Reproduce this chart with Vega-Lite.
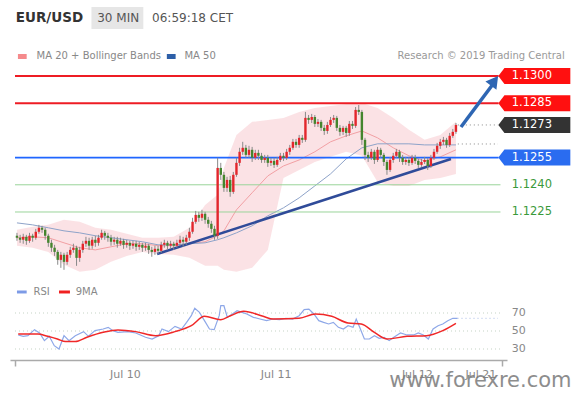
{
"$schema":"https://vega.github.io/schema/vega-lite/v6.json",
"width":497,"height":360,"autosize":"none",
"padding":{"left":10,"right":73,"top":0,"bottom":33},
"background":"white",
"config":{"view":{"stroke":null},"font":"DejaVu Sans"},
"datasets":{
"candles":[
{"i":0,"o":1.12119,"h":1.12135,"l":1.12091,"c":1.12108},
{"i":1,"o":1.12108,"h":1.12124,"l":1.12080,"c":1.12097},
{"i":2,"o":1.12097,"h":1.12130,"l":1.12075,"c":1.12113},
{"i":3,"o":1.12113,"h":1.12124,"l":1.12069,"c":1.12091},
{"i":4,"o":1.12091,"h":1.12135,"l":1.12080,"c":1.12119},
{"i":5,"o":1.12119,"h":1.12130,"l":1.12086,"c":1.12108},
{"i":6,"o":1.12108,"h":1.12157,"l":1.12097,"c":1.12141},
{"i":7,"o":1.12141,"h":1.12179,"l":1.12130,"c":1.12163},
{"i":8,"o":1.12163,"h":1.12174,"l":1.12135,"c":1.12152},
{"i":9,"o":1.12152,"h":1.12163,"l":1.12097,"c":1.12119},
{"i":10,"o":1.12119,"h":1.12130,"l":1.12058,"c":1.12080},
{"i":11,"o":1.12080,"h":1.12097,"l":1.12030,"c":1.12053},
{"i":12,"o":1.12053,"h":1.12069,"l":1.12008,"c":1.12030},
{"i":13,"o":1.12030,"h":1.12041,"l":1.11959,"c":1.11986},
{"i":14,"o":1.11986,"h":1.12030,"l":1.11942,"c":1.12014},
{"i":15,"o":1.12014,"h":1.12025,"l":1.11931,"c":1.11975},
{"i":16,"o":1.11975,"h":1.12030,"l":1.11959,"c":1.12014},
{"i":17,"o":1.12014,"h":1.12058,"l":1.11997,"c":1.12041},
{"i":18,"o":1.12041,"h":1.12075,"l":1.12025,"c":1.12053},
{"i":19,"o":1.12053,"h":1.12064,"l":1.11953,"c":1.11997},
{"i":20,"o":1.11997,"h":1.12058,"l":1.11975,"c":1.12041},
{"i":21,"o":1.12041,"h":1.12091,"l":1.12025,"c":1.12075},
{"i":22,"o":1.12075,"h":1.12113,"l":1.12058,"c":1.12091},
{"i":23,"o":1.12091,"h":1.12108,"l":1.12041,"c":1.12064},
{"i":24,"o":1.12064,"h":1.12113,"l":1.12047,"c":1.12097},
{"i":25,"o":1.12097,"h":1.12119,"l":1.12058,"c":1.12080},
{"i":26,"o":1.12080,"h":1.12124,"l":1.12064,"c":1.12108},
{"i":27,"o":1.12108,"h":1.12152,"l":1.12097,"c":1.12135},
{"i":28,"o":1.12135,"h":1.12146,"l":1.12097,"c":1.12119},
{"i":29,"o":1.12119,"h":1.12135,"l":1.12086,"c":1.12108},
{"i":30,"o":1.12108,"h":1.12124,"l":1.12064,"c":1.12086},
{"i":31,"o":1.12086,"h":1.12113,"l":1.12069,"c":1.12097},
{"i":32,"o":1.12097,"h":1.12113,"l":1.12053,"c":1.12075},
{"i":33,"o":1.12075,"h":1.12108,"l":1.12064,"c":1.12091},
{"i":34,"o":1.12091,"h":1.12102,"l":1.12047,"c":1.12069},
{"i":35,"o":1.12069,"h":1.12097,"l":1.12053,"c":1.12080},
{"i":36,"o":1.12080,"h":1.12091,"l":1.12041,"c":1.12064},
{"i":37,"o":1.12064,"h":1.12091,"l":1.12047,"c":1.12075},
{"i":38,"o":1.12075,"h":1.12091,"l":1.12036,"c":1.12058},
{"i":39,"o":1.12058,"h":1.12086,"l":1.12041,"c":1.12069},
{"i":40,"o":1.12069,"h":1.12080,"l":1.12030,"c":1.12053},
{"i":41,"o":1.12053,"h":1.12080,"l":1.12036,"c":1.12064},
{"i":42,"o":1.12064,"h":1.12075,"l":1.12019,"c":1.12041},
{"i":43,"o":1.12041,"h":1.12058,"l":1.12003,"c":1.12030},
{"i":44,"o":1.12030,"h":1.12064,"l":1.12014,"c":1.12047},
{"i":45,"o":1.12047,"h":1.12064,"l":1.12019,"c":1.12036},
{"i":46,"o":1.12036,"h":1.12086,"l":1.12025,"c":1.12069},
{"i":47,"o":1.12069,"h":1.12097,"l":1.12053,"c":1.12080},
{"i":48,"o":1.12080,"h":1.12091,"l":1.12041,"c":1.12064},
{"i":49,"o":1.12064,"h":1.12091,"l":1.12047,"c":1.12075},
{"i":50,"o":1.12075,"h":1.12086,"l":1.12041,"c":1.12064},
{"i":51,"o":1.12064,"h":1.12097,"l":1.12053,"c":1.12080},
{"i":52,"o":1.12080,"h":1.12119,"l":1.12064,"c":1.12097},
{"i":53,"o":1.12097,"h":1.12113,"l":1.12058,"c":1.12086},
{"i":54,"o":1.12086,"h":1.12124,"l":1.12069,"c":1.12108},
{"i":55,"o":1.12108,"h":1.12163,"l":1.12091,"c":1.12141},
{"i":56,"o":1.12141,"h":1.12218,"l":1.12130,"c":1.12196},
{"i":57,"o":1.12196,"h":1.12256,"l":1.12185,"c":1.12234},
{"i":58,"o":1.12234,"h":1.12251,"l":1.12196,"c":1.12218},
{"i":59,"o":1.12218,"h":1.12262,"l":1.12201,"c":1.12240},
{"i":60,"o":1.12240,"h":1.12251,"l":1.12185,"c":1.12207},
{"i":61,"o":1.12207,"h":1.12223,"l":1.12163,"c":1.12185},
{"i":62,"o":1.12185,"h":1.12201,"l":1.12135,"c":1.12157},
{"i":63,"o":1.12157,"h":1.12174,"l":1.12097,"c":1.12119},
{"i":64,"o":1.12119,"h":1.12549,"l":1.12102,"c":1.12493},
{"i":65,"o":1.12493,"h":1.12521,"l":1.12427,"c":1.12455},
{"i":66,"o":1.12455,"h":1.12471,"l":1.12361,"c":1.12383},
{"i":67,"o":1.12383,"h":1.12444,"l":1.12361,"c":1.12427},
{"i":68,"o":1.12427,"h":1.12449,"l":1.12334,"c":1.12361},
{"i":69,"o":1.12361,"h":1.12471,"l":1.12350,"c":1.12455},
{"i":70,"o":1.12455,"h":1.12549,"l":1.12444,"c":1.12521},
{"i":71,"o":1.12521,"h":1.12604,"l":1.12504,"c":1.12582},
{"i":72,"o":1.12582,"h":1.12637,"l":1.12565,"c":1.12604},
{"i":73,"o":1.12604,"h":1.12620,"l":1.12549,"c":1.12565},
{"i":74,"o":1.12565,"h":1.12615,"l":1.12549,"c":1.12593},
{"i":75,"o":1.12593,"h":1.12609,"l":1.12526,"c":1.12549},
{"i":76,"o":1.12549,"h":1.12593,"l":1.12537,"c":1.12576},
{"i":77,"o":1.12576,"h":1.12593,"l":1.12537,"c":1.12560},
{"i":78,"o":1.12560,"h":1.12576,"l":1.12521,"c":1.12537},
{"i":79,"o":1.12537,"h":1.12565,"l":1.12521,"c":1.12549},
{"i":80,"o":1.12549,"h":1.12565,"l":1.12499,"c":1.12521},
{"i":81,"o":1.12521,"h":1.12549,"l":1.12504,"c":1.12532},
{"i":82,"o":1.12532,"h":1.12549,"l":1.12493,"c":1.12510},
{"i":83,"o":1.12510,"h":1.12554,"l":1.12499,"c":1.12537},
{"i":84,"o":1.12537,"h":1.12576,"l":1.12526,"c":1.12560},
{"i":85,"o":1.12560,"h":1.12576,"l":1.12532,"c":1.12549},
{"i":86,"o":1.12549,"h":1.12598,"l":1.12537,"c":1.12582},
{"i":87,"o":1.12582,"h":1.12620,"l":1.12565,"c":1.12604},
{"i":88,"o":1.12604,"h":1.12653,"l":1.12593,"c":1.12637},
{"i":89,"o":1.12637,"h":1.12653,"l":1.12604,"c":1.12620},
{"i":90,"o":1.12620,"h":1.12675,"l":1.12604,"c":1.12659},
{"i":91,"o":1.12659,"h":1.12675,"l":1.12631,"c":1.12648},
{"i":92,"o":1.12648,"h":1.12802,"l":1.12637,"c":1.12769},
{"i":93,"o":1.12769,"h":1.12785,"l":1.12736,"c":1.12758},
{"i":94,"o":1.12758,"h":1.12791,"l":1.12741,"c":1.12774},
{"i":95,"o":1.12774,"h":1.12785,"l":1.12719,"c":1.12736},
{"i":96,"o":1.12736,"h":1.12763,"l":1.12719,"c":1.12747},
{"i":97,"o":1.12747,"h":1.12758,"l":1.12697,"c":1.12714},
{"i":98,"o":1.12714,"h":1.12730,"l":1.12675,"c":1.12697},
{"i":99,"o":1.12697,"h":1.12747,"l":1.12681,"c":1.12730},
{"i":100,"o":1.12730,"h":1.12774,"l":1.12719,"c":1.12758},
{"i":101,"o":1.12758,"h":1.12785,"l":1.12741,"c":1.12769},
{"i":102,"o":1.12769,"h":1.12780,"l":1.12697,"c":1.12714},
{"i":103,"o":1.12714,"h":1.12730,"l":1.12670,"c":1.12692},
{"i":104,"o":1.12692,"h":1.12725,"l":1.12675,"c":1.12714},
{"i":105,"o":1.12714,"h":1.12725,"l":1.12664,"c":1.12686},
{"i":106,"o":1.12686,"h":1.12752,"l":1.12670,"c":1.12736},
{"i":107,"o":1.12736,"h":1.12752,"l":1.12708,"c":1.12725},
{"i":108,"o":1.12725,"h":1.12829,"l":1.12714,"c":1.12813},
{"i":109,"o":1.12813,"h":1.12840,"l":1.12785,"c":1.12802},
{"i":110,"o":1.12802,"h":1.12813,"l":1.12620,"c":1.12648},
{"i":111,"o":1.12648,"h":1.12659,"l":1.12537,"c":1.12565},
{"i":112,"o":1.12565,"h":1.12582,"l":1.12526,"c":1.12549},
{"i":113,"o":1.12549,"h":1.12598,"l":1.12537,"c":1.12582},
{"i":114,"o":1.12582,"h":1.12593,"l":1.12515,"c":1.12537},
{"i":115,"o":1.12537,"h":1.12609,"l":1.12526,"c":1.12593},
{"i":116,"o":1.12593,"h":1.12604,"l":1.12549,"c":1.12565},
{"i":117,"o":1.12565,"h":1.12576,"l":1.12504,"c":1.12526},
{"i":118,"o":1.12526,"h":1.12537,"l":1.12455,"c":1.12482},
{"i":119,"o":1.12482,"h":1.12554,"l":1.12471,"c":1.12537},
{"i":120,"o":1.12537,"h":1.12576,"l":1.12521,"c":1.12560},
{"i":121,"o":1.12560,"h":1.12598,"l":1.12549,"c":1.12582},
{"i":122,"o":1.12582,"h":1.12593,"l":1.12526,"c":1.12549},
{"i":123,"o":1.12549,"h":1.12565,"l":1.12510,"c":1.12526},
{"i":124,"o":1.12526,"h":1.12554,"l":1.12510,"c":1.12537},
{"i":125,"o":1.12537,"h":1.12554,"l":1.12504,"c":1.12521},
{"i":126,"o":1.12521,"h":1.12565,"l":1.12510,"c":1.12549},
{"i":127,"o":1.12549,"h":1.12565,"l":1.12515,"c":1.12532},
{"i":128,"o":1.12532,"h":1.12543,"l":1.12493,"c":1.12510},
{"i":129,"o":1.12510,"h":1.12543,"l":1.12499,"c":1.12526},
{"i":130,"o":1.12526,"h":1.12554,"l":1.12515,"c":1.12537},
{"i":131,"o":1.12537,"h":1.12549,"l":1.12482,"c":1.12504},
{"i":132,"o":1.12504,"h":1.12565,"l":1.12493,"c":1.12549},
{"i":133,"o":1.12549,"h":1.12598,"l":1.12537,"c":1.12582},
{"i":134,"o":1.12582,"h":1.12631,"l":1.12571,"c":1.12615},
{"i":135,"o":1.12615,"h":1.12653,"l":1.12598,"c":1.12637},
{"i":136,"o":1.12637,"h":1.12664,"l":1.12620,"c":1.12648},
{"i":137,"o":1.12648,"h":1.12659,"l":1.12604,"c":1.12620},
{"i":138,"o":1.12620,"h":1.12686,"l":1.12609,"c":1.12670},
{"i":139,"o":1.12670,"h":1.12708,"l":1.12659,"c":1.12692},
{"i":140,"o":1.12692,"h":1.12741,"l":1.12681,"c":1.12730}
],
"bands":[
{"i":0,"ma20":1.12108,"up":1.12152,"lo":1.12064,"ma50":1.12190},
{"i":5,"ma20":1.12113,"up":1.12168,"lo":1.12053,"ma50":1.12179},
{"i":10,"ma20":1.12108,"up":1.12179,"lo":1.12030,"ma50":1.12163},
{"i":15,"ma20":1.12080,"up":1.12207,"lo":1.11959,"ma50":1.12146},
{"i":20,"ma20":1.12053,"up":1.12196,"lo":1.11920,"ma50":1.12135},
{"i":25,"ma20":1.12041,"up":1.12163,"lo":1.11931,"ma50":1.12119},
{"i":30,"ma20":1.12058,"up":1.12152,"lo":1.11975,"ma50":1.12108},
{"i":35,"ma20":1.12075,"up":1.12130,"lo":1.12008,"ma50":1.12097},
{"i":40,"ma20":1.12075,"up":1.12108,"lo":1.12030,"ma50":1.12086},
{"i":45,"ma20":1.12064,"up":1.12108,"lo":1.12019,"ma50":1.12069},
{"i":50,"ma20":1.12064,"up":1.12113,"lo":1.12014,"ma50":1.12069},
{"i":55,"ma20":1.12075,"up":1.12163,"lo":1.11997,"ma50":1.12075},
{"i":60,"ma20":1.12086,"up":1.12289,"lo":1.11953,"ma50":1.12080},
{"i":64,"ma20":1.12119,"up":1.12345,"lo":1.11953,"ma50":1.12097},
{"i":66,"ma20":1.12146,"up":1.12493,"lo":1.11931,"ma50":1.12108},
{"i":70,"ma20":1.12262,"up":1.12675,"lo":1.11920,"ma50":1.12135},
{"i":75,"ma20":1.12356,"up":1.12747,"lo":1.11942,"ma50":1.12174},
{"i":80,"ma20":1.12449,"up":1.12758,"lo":1.12041,"ma50":1.12229},
{"i":85,"ma20":1.12504,"up":1.12769,"lo":1.12438,"ma50":1.12273},
{"i":90,"ma20":1.12537,"up":1.12802,"lo":1.12482,"ma50":1.12328},
{"i":95,"ma20":1.12582,"up":1.12824,"lo":1.12526,"ma50":1.12394},
{"i":100,"ma20":1.12637,"up":1.12835,"lo":1.12554,"ma50":1.12460},
{"i":105,"ma20":1.12670,"up":1.12846,"lo":1.12582,"ma50":1.12543},
{"i":110,"ma20":1.12697,"up":1.12851,"lo":1.12560,"ma50":1.12604},
{"i":115,"ma20":1.12659,"up":1.12824,"lo":1.12416,"ma50":1.12626},
{"i":120,"ma20":1.12604,"up":1.12769,"lo":1.12394,"ma50":1.12626},
{"i":125,"ma20":1.12560,"up":1.12703,"lo":1.12394,"ma50":1.12626},
{"i":130,"ma20":1.12532,"up":1.12648,"lo":1.12427,"ma50":1.12620},
{"i":135,"ma20":1.12554,"up":1.12675,"lo":1.12438,"ma50":1.12620},
{"i":140,"ma20":1.12593,"up":1.12747,"lo":1.12460,"ma50":1.12620}
],
"levels":[
{"level":1.13,"label":"1.1300","kind":"res"},
{"level":1.1285,"label":"1.1285","kind":"res"},
{"level":1.1273,"label":"1.1273","kind":"cur"},
{"level":1.1255,"label":"1.1255","kind":"sup"},
{"level":1.124,"label":"1.1240","kind":"lvl"},
{"level":1.1225,"label":"1.1225","kind":"lvl"}
],
"trend":[{"i":44.7,"p":1.120183},{"i":138.4,"p":1.125422}],
"arrow":[{"i":141.6,"p":1.127187},{"i":151.6,"p":1.129503}],
"rsi":[
{"i":0.4,"r":45.6},{"i":2.0,"r":44.1},{"i":3.5,"r":44.8},{"i":5.6,"r":51.5},{"i":7.2,"r":47.8},{"i":8.75,"r":39.3},{"i":10.3,"r":44.1},{"i":11.9,"r":33.7},{"i":13.4,"r":30.0},{"i":15,"r":44.8},{"i":16.6,"r":39.3},{"i":18.6,"r":44.8},{"i":21.25,"r":49.3},{"i":22.8,"r":44.1},{"i":24.9,"r":50.4},{"i":27.5,"r":52.2},{"i":29.1,"r":54.1},{"i":30.6,"r":50.4},{"i":32.2,"r":48.5},{"i":35.3,"r":49.3},{"i":37.9,"r":47.8},{"i":41,"r":43.0},{"i":43.1,"r":41.1},{"i":45.2,"r":44.8},{"i":46.25,"r":52.2},{"i":48.3,"r":49.3},{"i":50.4,"r":55.2},{"i":52.5,"r":52.2},{"i":54.1,"r":59.6},{"i":55.6,"r":67.0},{"i":56.7,"r":75.2},{"i":58.2,"r":70.7},{"i":59.8,"r":61.5},{"i":61.4,"r":52.2},{"i":62.9,"r":51.5},{"i":64.5,"r":67.0},{"i":65,"r":78.1},{"i":66,"r":78.1},{"i":67.1,"r":65.2},{"i":68.7,"r":68.9},{"i":70.2,"r":72.6},{"i":71.8,"r":70.7},{"i":73.3,"r":68.9},{"i":75.4,"r":65.2},{"i":77.5,"r":63.3},{"i":79.6,"r":61.5},{"i":81.7,"r":63.3},{"i":83.75,"r":62.6},{"i":85.8,"r":64.1},{"i":87.9,"r":63.3},{"i":90,"r":67.0},{"i":91.6,"r":73.7},{"i":93.1,"r":74.4},{"i":94.7,"r":68.9},{"i":96.25,"r":61.5},{"i":97.8,"r":59.6},{"i":99.4,"r":57.8},{"i":100.9,"r":59.6},{"i":102.5,"r":54.1},{"i":104.1,"r":52.2},{"i":105.6,"r":55.9},{"i":107.2,"r":54.1},{"i":108.2,"r":63.3},{"i":109.3,"r":54.1},{"i":110.8,"r":41.1},{"i":112.4,"r":41.1},{"i":114,"r":44.8},{"i":115.5,"r":41.9},{"i":117.1,"r":43.0},{"i":118.7,"r":39.3},{"i":120.2,"r":43.0},{"i":122.3,"r":47.8},{"i":124.4,"r":45.6},{"i":126.5,"r":45.6},{"i":128,"r":47.8},{"i":129.6,"r":45.6},{"i":131.2,"r":41.1},{"i":132.7,"r":52.2},{"i":134.3,"r":55.9},{"i":135.8,"r":57.8},{"i":137.4,"r":61.5},{"i":139,"r":64.1},{"i":140.5,"r":64.1}
],
"ma9":[
{"i":0.4,"r":46.7},{"i":6.7,"r":46.7},{"i":9.8,"r":44.1},{"i":12.9,"r":41.1},{"i":15.5,"r":38.2},{"i":18.6,"r":38.2},{"i":22.3,"r":43.0},{"i":27.5,"r":48.5},{"i":32.2,"r":51.1},{"i":37.9,"r":49.3},{"i":44.2,"r":44.8},{"i":50.4,"r":49.3},{"i":55.6,"r":55.9},{"i":59.8,"r":66.3},{"i":65,"r":62.6},{"i":68.1,"r":67.0},{"i":72.3,"r":71.9},{"i":78.5,"r":66.3},{"i":81.7,"r":63.3},{"i":90,"r":64.1},{"i":95.2,"r":68.9},{"i":100.4,"r":66.3},{"i":105.6,"r":58.9},{"i":109.8,"r":57.8},{"i":114,"r":48.5},{"i":118.1,"r":41.1},{"i":124.4,"r":44.1},{"i":130.6,"r":44.8},{"i":135.8,"r":50.4},{"i":140,"r":58.5}
],
"rsigrid":[{"v":70,"t":"70"},{"v":50,"t":"50"},{"v":30,"t":"30"}]
},
"layer":[
{"data":{"name":"rsigrid"},"mark":{"type":"rule","opacity":0},
 "encoding":{"x":{"datum":0,"type":"quantitative","scale":{"domain":[-0.625,154.6875],"nice":false,"zero":false},
   "axis":{"values":[-0.625,34.4,82.5,127.5,147.8,154.6875],"labelExpr":"datum.value > 34 && datum.value < 35 ? 'Jul 10' : datum.value > 82 && datum.value < 83 ? 'Jul 11' : datum.value > 127 && datum.value < 128 ? 'Jul 12' : datum.value > 147 && datum.value < 148 ? 'Jul 21' : ''","grid":false,"title":null,"domainColor":"#aaaaaa","domainWidth":1.5,"tickColor":{"condition":{"test":"datum.value < 0 || datum.value > 154","value":"#aaaaaa"},"value":"transparent"},"tickWidth":1.5,"tickSize":6,"labelColor":"#888888","labelFontSize":11,"labelPadding":2,"labelFlush":false,"labelOverlap":false}},
 "y":{"field":"v","type":"quantitative","scale":{"domain":[17.78,417.78],"nice":false,"zero":false},"axis":null}}},
{
"layer":[
{"data":{"name":"bands"},"mark":{"type":"area","color":"#f9d3d7","opacity":0.65},
 "encoding":{"x":{"field":"i","type":"quantitative","scale":{"domain":[-0.625,154.6875],"nice":false,"zero":false}},
 "y":{"field":"up","type":"quantitative","scale":{"domain":[1.114338,1.134191],"nice":false,"zero":false},"axis":null},"y2":{"field":"lo"}}},
{"data":{"name":"bands"},"mark":{"type":"line","color":"#f2a0a4","strokeWidth":1},
 "encoding":{"x":{"field":"i","type":"quantitative","scale":{"domain":[-0.625,154.6875],"nice":false,"zero":false}},
 "y":{"field":"ma20","type":"quantitative","scale":{"domain":[1.114338,1.134191],"nice":false,"zero":false},"axis":null}}},
{"data":{"name":"bands"},"mark":{"type":"line","color":"#8ea3c9","strokeWidth":1},
 "encoding":{"x":{"field":"i","type":"quantitative","scale":{"domain":[-0.625,154.6875],"nice":false,"zero":false}},
 "y":{"field":"ma50","type":"quantitative","scale":{"domain":[1.114338,1.134191],"nice":false,"zero":false},"axis":null}}},
{"data":{"name":"levels"},"transform":[{"filter":"datum.kind === 'lvl'"}],"mark":{"type":"rule","color":"#9ad49a","strokeWidth":1},
 "encoding":{"x":{"datum":-0.625,"type":"quantitative","scale":{"domain":[-0.625,154.6875],"nice":false,"zero":false}},"x2":{"datum":154.2},
 "y":{"field":"level","type":"quantitative","scale":{"domain":[1.114338,1.134191],"nice":false,"zero":false},"axis":null}}},
{"data":{"name":"levels"},"transform":[{"filter":"datum.kind === 'sup'"}],"mark":{"type":"rule","color":"#1f66ff","strokeWidth":1.6},
 "encoding":{"x":{"datum":-0.625,"type":"quantitative","scale":{"domain":[-0.625,154.6875],"nice":false,"zero":false}},"x2":{"datum":153.6},
 "y":{"field":"level","type":"quantitative","scale":{"domain":[1.114338,1.134191],"nice":false,"zero":false},"axis":null}}},
{"data":{"name":"levels"},"transform":[{"filter":"datum.kind === 'res'"}],"mark":{"type":"rule","color":"#ee1c24","strokeWidth":2},
 "encoding":{"x":{"datum":-0.625,"type":"quantitative","scale":{"domain":[-0.625,154.6875],"nice":false,"zero":false}},"x2":{"datum":153.6},
 "y":{"field":"level","type":"quantitative","scale":{"domain":[1.114338,1.134191],"nice":false,"zero":false},"axis":null}}},
{"data":{"values":[{"v":1.1273},{"v":1.12625}]},"mark":{"type":"rule","color":"#888888","strokeDash":[1,3],"strokeWidth":1},
 "encoding":{"x":{"datum":140.6,"type":"quantitative","scale":{"domain":[-0.625,154.6875],"nice":false,"zero":false}},"x2":{"datum":153.4},
 "y":{"field":"v","type":"quantitative","scale":{"domain":[1.114338,1.134191],"nice":false,"zero":false},"axis":null}}},
{"data":{"name":"trend"},"mark":{"type":"line","color":"#2f4b99","strokeWidth":2.5},
 "encoding":{"x":{"field":"i","type":"quantitative","scale":{"domain":[-0.625,154.6875],"nice":false,"zero":false}},
 "y":{"field":"p","type":"quantitative","scale":{"domain":[1.114338,1.134191],"nice":false,"zero":false},"axis":null}}},
{"data":{"name":"candles"},"mark":{"type":"rule","color":"#8a8a8a","strokeWidth":1},
 "encoding":{"x":{"field":"i","type":"quantitative","scale":{"domain":[-0.625,154.6875],"nice":false,"zero":false}},
 "y":{"field":"l","type":"quantitative","scale":{"domain":[1.114338,1.134191],"nice":false,"zero":false},"axis":null},"y2":{"field":"h"}}},
{"data":{"name":"candles"},"mark":{"type":"bar","size":2.4},
 "encoding":{"x":{"field":"i","type":"quantitative","scale":{"domain":[-0.625,154.6875],"nice":false,"zero":false}},
 "y":{"field":"o","type":"quantitative","scale":{"domain":[1.114338,1.134191],"nice":false,"zero":false},"axis":null},"y2":{"field":"c"},
 "color":{"condition":{"test":"datum.c >= datum.o","value":"#e3262c"},"value":"#44852e"}}},
{"data":{"name":"arrow"},"mark":{"type":"line","color":"#2e66b3","strokeWidth":3.5},
 "encoding":{"x":{"field":"i","type":"quantitative","scale":{"domain":[-0.625,154.6875],"nice":false,"zero":false}},
 "y":{"field":"p","type":"quantitative","scale":{"domain":[1.114338,1.134191],"nice":false,"zero":false},"axis":null}}},
{"data":{"values":[{"a":1}]},"mark":{"type":"point","shape":"triangle-up","filled":true,"size":190,"angle":37,"color":"#2e66b3","opacity":1},
 "encoding":{"x":{"datum":152.3,"type":"quantitative","scale":{"domain":[-0.625,154.6875],"nice":false,"zero":false}},
 "y":{"datum":1.129735,"type":"quantitative","scale":{"domain":[1.114338,1.134191],"nice":false,"zero":false},"axis":null}}},
{"data":{"name":"levels"},"transform":[{"filter":"datum.kind !== 'lvl'"}],"mark":{"type":"point","shape":"M-1,0L-0.83,-0.222L1,-0.222L1,0.222L-0.83,0.222Z","filled":true,"size":5184,"opacity":1,"strokeWidth":0},
 "encoding":{"x":{"datum":165,"type":"quantitative","scale":{"domain":[-0.625,154.6875],"nice":false,"zero":false}},
 "y":{"field":"level","type":"quantitative","scale":{"domain":[1.114338,1.134191],"nice":false,"zero":false},"axis":null},
 "color":{"condition":[{"test":"datum.kind === 'res'","value":"#ff1010"},{"test":"datum.kind === 'cur'","value":"#333333"}],"value":"#2a6cf0"}}},
{"data":{"name":"levels"},"mark":{"type":"text","align":"left","baseline":"middle","fontSize":11.5},
 "encoding":{"x":{"datum":157.8,"type":"quantitative","scale":{"domain":[-0.625,154.6875],"nice":false,"zero":false}},
 "y":{"field":"level","type":"quantitative","scale":{"domain":[1.114338,1.134191],"nice":false,"zero":false},"axis":null},
 "text":{"field":"label"},
 "color":{"condition":{"test":"datum.kind === 'lvl'","value":"#3a9a3a"},"value":"#ffffff"}}},
{"data":{"values":[{"a":1}]},"mark":{"type":"rect","color":"#e6e6e6"},
 "encoding":{"x":{"datum":23.75,"type":"quantitative","scale":{"domain":[-0.625,154.6875],"nice":false,"zero":false}},"x2":{"datum":40.3},
 "y":{"datum":1.133805,"type":"quantitative","scale":{"domain":[1.114338,1.134191],"nice":false,"zero":false},"axis":null},"y2":{"datum":1.132592}}},
{"data":{"values":[{"t":"EUR/USD"}]},"mark":{"type":"text","align":"left","baseline":"middle","fontSize":13.5,"fontWeight":"bold","color":"#333333"},
 "encoding":{"x":{"datum":-0.4,"type":"quantitative","scale":{"domain":[-0.625,154.6875],"nice":false,"zero":false}},
 "y":{"datum":1.133198,"type":"quantitative","scale":{"domain":[1.114338,1.134191],"nice":false,"zero":false},"axis":null},"text":{"field":"t"}}},
{"data":{"values":[{"t":"30 MIN"}]},"mark":{"type":"text","align":"left","baseline":"middle","fontSize":12,"color":"#555555"},
 "encoding":{"x":{"datum":25.6,"type":"quantitative","scale":{"domain":[-0.625,154.6875],"nice":false,"zero":false}},
 "y":{"datum":1.133198,"type":"quantitative","scale":{"domain":[1.114338,1.134191],"nice":false,"zero":false},"axis":null},"text":{"field":"t"}}},
{"data":{"values":[{"t":"06:59:18 CET"}]},"mark":{"type":"text","align":"left","baseline":"middle","fontSize":12,"color":"#555555"},
 "encoding":{"x":{"datum":43.1,"type":"quantitative","scale":{"domain":[-0.625,154.6875],"nice":false,"zero":false}},
 "y":{"datum":1.133198,"type":"quantitative","scale":{"domain":[1.114338,1.134191],"nice":false,"zero":false},"axis":null},"text":{"field":"t"}}},
{"data":{"values":[{"a":1}]},"mark":{"type":"rect","color":"#f58a8c"},
 "encoding":{"x":{"datum":0.31,"type":"quantitative","scale":{"domain":[-0.625,154.6875],"nice":false,"zero":false}},"x2":{"datum":3.1},
 "y":{"datum":1.131213,"type":"quantitative","scale":{"domain":[1.114338,1.134191],"nice":false,"zero":false},"axis":null},"y2":{"datum":1.130937}}},
{"data":{"values":[{"a":1}]},"mark":{"type":"rect","color":"#2d5fa8"},
 "encoding":{"x":{"datum":47.8,"type":"quantitative","scale":{"domain":[-0.625,154.6875],"nice":false,"zero":false}},"x2":{"datum":50.6},
 "y":{"datum":1.131213,"type":"quantitative","scale":{"domain":[1.114338,1.134191],"nice":false,"zero":false},"axis":null},"y2":{"datum":1.130937}}},
{"data":{"values":[{"t":"MA 20 + Bollinger Bands"}]},"mark":{"type":"text","align":"left","baseline":"middle","fontSize":10,"color":"#888888"},
 "encoding":{"x":{"datum":6.25,"type":"quantitative","scale":{"domain":[-0.625,154.6875],"nice":false,"zero":false}},
 "y":{"datum":1.131103,"type":"quantitative","scale":{"domain":[1.114338,1.134191],"nice":false,"zero":false},"axis":null},"text":{"field":"t"}}},
{"data":{"values":[{"t":"MA 50"}]},"mark":{"type":"text","align":"left","baseline":"middle","fontSize":10,"color":"#888888"},
 "encoding":{"x":{"datum":53.4,"type":"quantitative","scale":{"domain":[-0.625,154.6875],"nice":false,"zero":false}},
 "y":{"datum":1.131103,"type":"quantitative","scale":{"domain":[1.114338,1.134191],"nice":false,"zero":false},"axis":null},"text":{"field":"t"}}},
{"data":{"values":[{"t":"Research © 2019 Trading Central"}]},"mark":{"type":"text","align":"right","baseline":"middle","fontSize":10,"color":"#999999"},
 "encoding":{"x":{"datum":174.7,"type":"quantitative","scale":{"domain":[-0.625,154.6875],"nice":false,"zero":false}},
 "y":{"datum":1.131103,"type":"quantitative","scale":{"domain":[1.114338,1.134191],"nice":false,"zero":false},"axis":null},"text":{"field":"t"}}}
]
},
{
"layer":[
{"data":{"name":"rsigrid"},"mark":{"type":"rule","color":"#c5d3c5","strokeDash":[1,3],"strokeWidth":1},
 "encoding":{"x":{"datum":-0.625,"type":"quantitative","scale":{"domain":[-0.625,154.6875],"nice":false,"zero":false}},"x2":{"datum":154.6875},
 "y":{"field":"v","type":"quantitative","scale":{"domain":[17.78,417.78],"nice":false,"zero":false},"axis":null}}},
{"data":{"name":"rsigrid"},"mark":{"type":"text","align":"left","baseline":"middle","fontSize":11,"color":"#888888"},
 "encoding":{"x":{"datum":157.8,"type":"quantitative","scale":{"domain":[-0.625,154.6875],"nice":false,"zero":false}},
 "y":{"field":"v","type":"quantitative","scale":{"domain":[17.78,417.78],"nice":false,"zero":false},"axis":null},"text":{"field":"t"}}},
{"data":{"values":[{"v":64.1}]},"mark":{"type":"rule","color":"#a9bbe6","strokeDash":[1,3],"strokeWidth":1},
 "encoding":{"x":{"datum":140.5,"type":"quantitative","scale":{"domain":[-0.625,154.6875],"nice":false,"zero":false}},"x2":{"datum":153.4},
 "y":{"field":"v","type":"quantitative","scale":{"domain":[17.78,417.78],"nice":false,"zero":false},"axis":null}}},
{"data":{"name":"rsi"},"mark":{"type":"line","color":"#8ea8e8","strokeWidth":1.2},
 "encoding":{"x":{"field":"i","type":"quantitative","scale":{"domain":[-0.625,154.6875],"nice":false,"zero":false}},
 "y":{"field":"r","type":"quantitative","scale":{"domain":[17.78,417.78],"nice":false,"zero":false},"axis":null}}},
{"data":{"name":"ma9"},"mark":{"type":"line","color":"#f02828","strokeWidth":1.5,"interpolate":"monotone"},
 "encoding":{"x":{"field":"i","type":"quantitative","scale":{"domain":[-0.625,154.6875],"nice":false,"zero":false}},
 "y":{"field":"r","type":"quantitative","scale":{"domain":[17.78,417.78],"nice":false,"zero":false},"axis":null}}},
{"data":{"values":[{"a":1}]},"mark":{"type":"rect","color":"#7d9be6"},
 "encoding":{"x":{"datum":0,"type":"quantitative","scale":{"domain":[-0.625,154.6875],"nice":false,"zero":false}},"x2":{"datum":3.1},
 "y":{"datum":95.0,"type":"quantitative","scale":{"domain":[17.78,417.78],"nice":false,"zero":false},"axis":null},"y2":{"datum":91.7}}},
{"data":{"values":[{"a":1}]},"mark":{"type":"rect","color":"#f02020"},
 "encoding":{"x":{"datum":13.4,"type":"quantitative","scale":{"domain":[-0.625,154.6875],"nice":false,"zero":false}},"x2":{"datum":16.9},
 "y":{"datum":95.0,"type":"quantitative","scale":{"domain":[17.78,417.78],"nice":false,"zero":false},"axis":null},"y2":{"datum":91.7}}},
{"data":{"values":[{"t":"RSI"}]},"mark":{"type":"text","align":"left","baseline":"middle","fontSize":10,"color":"#888888"},
 "encoding":{"x":{"datum":5.3,"type":"quantitative","scale":{"domain":[-0.625,154.6875],"nice":false,"zero":false}},
 "y":{"datum":93.3,"type":"quantitative","scale":{"domain":[17.78,417.78],"nice":false,"zero":false},"axis":null},"text":{"field":"t"}}},
{"data":{"values":[{"t":"9MA"}]},"mark":{"type":"text","align":"left","baseline":"middle","fontSize":10,"color":"#888888"},
 "encoding":{"x":{"datum":18.75,"type":"quantitative","scale":{"domain":[-0.625,154.6875],"nice":false,"zero":false}},
 "y":{"datum":93.3,"type":"quantitative","scale":{"domain":[17.78,417.78],"nice":false,"zero":false},"axis":null},"text":{"field":"t"}}},
{"data":{"values":[{"t":"www.forexre.com"}]},"mark":{"type":"text","align":"center","baseline":"alphabetic","fontSize":21,"color":"#7a7a7a","opacity":0.85},
 "encoding":{"x":{"datum":147.8,"type":"quantitative","scale":{"domain":[-0.625,154.6875],"nice":false,"zero":false}},
 "y":{"datum":-12.2,"type":"quantitative","scale":{"domain":[17.78,417.78],"nice":false,"zero":false},"axis":null},"text":{"field":"t"}}}
]
}
],
"resolve":{"scale":{"y":"independent"}}
}
